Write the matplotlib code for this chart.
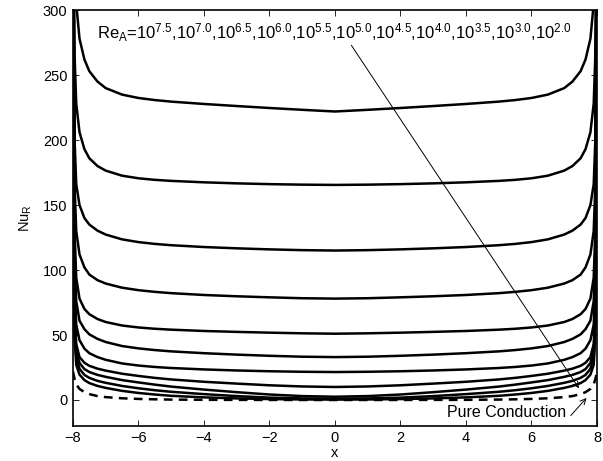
import matplotlib
matplotlib.use("Agg")
import matplotlib.pyplot as plt
import numpy as np

plt.rcParams['font.family'] = ['Liberation Sans', 'DejaVu Sans']
plt.rcParams['mathtext.fontset'] = 'custom'
plt.rcParams['mathtext.rm'] = 'Liberation Sans'
plt.rcParams['mathtext.it'] = 'Liberation Sans'
plt.rcParams['mathtext.bf'] = 'Liberation Sans'

# half-profile positions (x >= 0); curves are symmetric about x = 0
x_half = [0, 1, 2, 3, 4, 5, 5.5, 6, 6.5, 7, 7.25, 7.5, 7.65, 7.8, 7.9, 7.95, 8.0]

re_labels = ["7.5", "7.0", "6.5", "6.0", "5.5", "5.0", "4.5", "4.0", "3.5", "3.0", "2.0"]

nu_re_75 = [222, 223.3, 224.7, 226.2, 227.8, 229.6, 230.8, 232.4, 235, 240, 245, 253, 262, 278, 305, 340, 420]
nu_re_70 = [165.5, 165.7, 166.1, 166.7, 167.5, 168.6, 169.4, 170.6, 172.6, 176.5, 180, 186, 193, 206, 228, 265, 420]
nu_re_65 = [115, 115.3, 115.9, 116.7, 117.7, 119.1, 120.1, 121.5, 123.6, 127.3, 130.3, 135, 140, 150, 166, 200, 420]
nu_re_60 = [78, 78.3, 79, 79.8, 80.8, 82.2, 83.2, 84.5, 86.4, 89.6, 92.2, 96.5, 102, 112, 130, 165, 420]
nu_re_55 = [51, 51.3, 51.8, 52.4, 53.1, 54.1, 54.8, 55.8, 57.3, 60, 62.3, 66, 70, 78, 94, 130, 420]
nu_re_50 = [33, 33.3, 34, 34.9, 36, 37.4, 38.4, 39.7, 41.5, 44.6, 47, 50.5, 54.5, 61, 76, 108, 420]
nu_re_45 = [21.5, 21.7, 22.1, 22.7, 23.5, 24.6, 25.4, 26.5, 28.1, 30.9, 33, 36, 39.5, 46, 58, 88, 420]
nu_re_40 = [10, 10.4, 11.3, 12.6, 14.0, 15.8, 17.0, 18.5, 20.2, 22.6, 24.1, 26.3, 28.6, 33, 43, 68, 420]
nu_re_35 = [2.5, 3.0, 4.2, 6.0, 8.0, 10.3, 11.8, 13.5, 15.3, 17.8, 19.3, 21.5, 23.8, 28.5, 38, 62, 420]
nu_re_30 = [1, 1.2, 1.8, 3.0, 4.5, 6.3, 7.5, 9.0, 10.8, 13.2, 14.7, 17, 19.3, 24, 33, 58, 420]
nu_re_20 = [0.3, 0.4, 0.7, 1.2, 2.0, 3.2, 4.2, 5.4, 7.0, 9.3, 10.8, 13, 15.3, 19.5, 27, 48, 420]
nu_cond = [0, 0, 0.02, 0.05, 0.12, 0.3, 0.5, 0.8, 1.3, 2.2, 3, 4.5, 6, 8.5, 12, 16, 22]

series = [nu_re_75, nu_re_70, nu_re_65, nu_re_60, nu_re_55, nu_re_50,
          nu_re_45, nu_re_40, nu_re_35, nu_re_30, nu_re_20]


def full(xh, yh):
    xh = np.asarray(xh, float)
    yh = np.asarray(yh, float)
    xs = np.concatenate([-xh[::-1], xh[1:]])
    ys = np.concatenate([yh[::-1], yh[1:]])
    return xs, ys


fig = plt.figure(figsize=(6.03, 4.61), dpi=100)
ax = fig.add_axes([0.121, 0.076, 0.869, 0.902])

for s in series:
    xs, ys = full(x_half, s)
    ax.plot(xs, ys, color='black', lw=1.8, solid_joinstyle='round')
xs, ys = full(x_half, nu_cond)
ax.plot(xs, ys, color='black', lw=1.8, ls=(0, (3.5, 2.5)))

ax.set_xlim(-8, 8)
ax.set_ylim(-20, 300)
ax.set_xticks(np.arange(-8, 9, 2))
ax.set_yticks(np.arange(0, 301, 50))
ax.tick_params(direction='in', top=True, right=True, labelsize=10.5,
               length=4, width=0.6)
ax.tick_params(axis='x', pad=3.5)
ax.tick_params(axis='y', pad=4)
for sp in ax.spines.values():
    sp.set_linewidth(1.2)

ax.set_xlabel('x', fontsize=10.5)
ax.xaxis.set_label_coords(0.5, -0.047)
ax.set_ylabel(r'Nu$_\mathrm{R}$', fontsize=10.5, labelpad=6)

label = r'Re$_\mathrm{A}$=' + ','.join(r'10$^{%s}$' % r for r in re_labels)
ax.text(-7.27, 283, label, fontsize=12, ha='left', va='center')

ax.annotate('', xy=(7.45, 9), xytext=(0.5, 273),
            arrowprops=dict(arrowstyle='->', lw=0.7, color='black',
                            mutation_scale=10, shrinkA=0, shrinkB=0))
ax.text(3.42, -9.5, 'Pure Conduction', fontsize=11.5, ha='left', va='center')
ax.annotate('', xy=(7.68, 1.5), xytext=(7.2, -12),
            arrowprops=dict(arrowstyle='->', lw=0.7, color='black',
                            mutation_scale=10, shrinkA=0, shrinkB=0))

fig.savefig('out.png', dpi=100)
